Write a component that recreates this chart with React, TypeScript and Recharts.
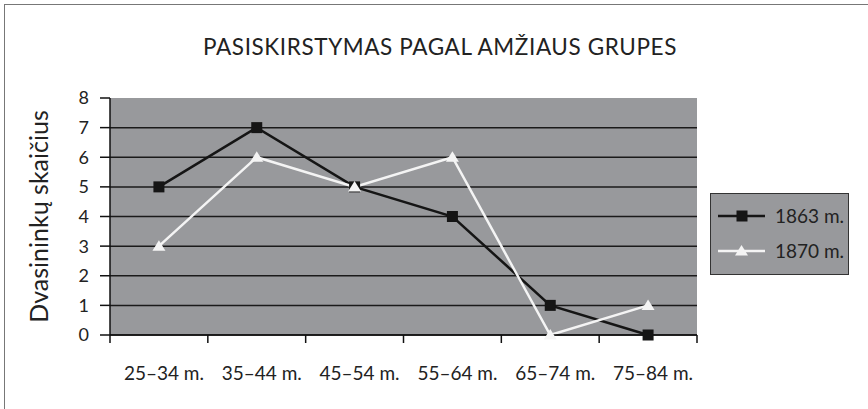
import React from 'react';
import { LineChart, Line, XAxis, YAxis, CartesianGrid, Legend, Label } from 'recharts';

// age groups and number of clergy per group
const ageGroups = ['25–34 m.', '35–44 m.', '45–54 m.', '55–64 m.', '65–74 m.', '75–84 m.'];
const clergy1863 = [5, 7, 5, 4, 1, 0];
const clergy1870 = [3, 6, 5, 6, 0, 1];
const yTicks = [0, 1, 2, 3, 4, 5, 6, 7, 8];
const gridValues = [0, 1, 2, 3, 4, 5, 6, 7];

const W = 868;
const H = 409;
const PLOT_LEFT = 110;
const PLOT_TOP = 98;
const PLOT_RIGHT = 697;
const PLOT_BOTTOM = 335;
const BAND = (PLOT_RIGHT - PLOT_LEFT) / ageGroups.length;

const FONT = 'Lato, "Open Sans", sans-serif';
const TEXT = '#222';
const PANEL = '#98999c';

const data = ageGroups.map((g, i) => ({ group: g, y1863: clergy1863[i], y1870: clergy1870[i] }));

const SquareDot = (props: any) => {
  const { cx, cy, index } = props;
  if (cx == null || cy == null) return <g key={`s-${index}`} />;
  return <rect key={`s-${index}`} x={cx - 5.5} y={cy - 5.5} width={11} height={11} fill="#151515" />;
};

const TriangleDot = (props: any) => {
  const { cx, cy, index } = props;
  if (cx == null || cy == null) return <g key={`t-${index}`} />;
  return <path key={`t-${index}`} d={`M${cx},${cy - 6} L${cx + 6.5},${cy + 4.5} L${cx - 6.5},${cy + 4.5} Z`} fill="#f4f4f4" />;
};

const XTick = (props: any) => {
  const { x, payload, index } = props;
  const half = BAND / 2;
  return (
    <g>
      {index === 0 && <line x1={x - half} y1={PLOT_BOTTOM} x2={x - half} y2={PLOT_BOTTOM + 8} stroke="#111" strokeWidth={1.5} />}
      <line x1={x + half} y1={PLOT_BOTTOM} x2={x + half} y2={PLOT_BOTTOM + 8} stroke="#111" strokeWidth={1.5} />
      <text x={x + 5} y={PLOT_BOTTOM + 45} textAnchor="middle" fill={TEXT} fontSize={19} fontFamily={FONT}>
        {payload.value}
      </text>
    </g>
  );
};

const LegendBox = (props: any) => {
  const { payload } = props;
  return (
    <div
      style={{
        width: 137,
        height: 76,
        background: PANEL,
        border: '1.5px solid #333',
        boxSizing: 'content-box',
        fontFamily: FONT,
        fontSize: 19,
        color: TEXT,
        paddingTop: 4,
      }}
    >
      {(payload || []).map((entry: any) => (
        <div key={entry.value} style={{ display: 'flex', alignItems: 'center', height: 35 }}>
          <svg width={58} height={20} style={{ marginLeft: 6 }}>
            <line x1={1} y1={10} x2={48} y2={10} stroke={entry.color} strokeWidth={2.5} />
            {entry.dataKey === 'y1863' ? (
              <rect x={19.5} y={4.5} width={11} height={11} fill="#151515" />
            ) : (
              <path d="M24.5,4 L31,14.5 L18,14.5 Z" fill="#f4f4f4" />
            )}
          </svg>
          <span>{entry.value}</span>
        </div>
      ))}
    </div>
  );
};

export default function App() {
  return (
    <div style={{ position: 'absolute', left: 0, top: 0, width: W, height: H, background: '#fff', overflow: 'hidden' }}>
      <div
        style={{
          position: 'absolute',
          left: 4,
          top: 4,
          width: W,
          height: H,
          borderLeft: '1.5px solid #777',
          borderTop: '1.5px solid #777',
        }}
      />
      <div
        style={{
          position: 'absolute',
          left: 0,
          top: 36,
          width: 880,
          textAlign: 'center',
          fontFamily: FONT,
          fontSize: 22.5,
          lineHeight: '22px',
          color: TEXT,
          letterSpacing: 0.6,
        }}
      >
        PASISKIRSTYMAS PAGAL AMŽIAUS GRUPES
      </div>
      <div style={{ position: 'absolute', left: 0, top: 0 }}>
        <LineChart
          width={W}
          height={H}
          data={data}
          margin={{ top: PLOT_TOP, right: W - PLOT_RIGHT, bottom: H - PLOT_BOTTOM - 40, left: PLOT_LEFT - 50 }}
        >
          <CartesianGrid
            vertical={false}
            horizontalValues={gridValues}
            stroke="#1a1a1a"
            strokeWidth={1.5}
            fill={PANEL}
            fillOpacity={1}
          />
          <XAxis
            dataKey="group"
            height={40}
            padding={{ left: BAND / 2, right: BAND / 2 }}
            tickLine={false}
            axisLine={{ stroke: '#111', strokeWidth: 1.5 }}
            tick={<XTick />}
            interval={0}
          />
          <YAxis
            width={50}
            domain={[0, 8]}
            ticks={yTicks}
            interval={0}
            tickSize={10}
            tickMargin={11}
            tickLine={{ stroke: '#111', strokeWidth: 1.5 }}
            axisLine={{ stroke: '#111', strokeWidth: 1.5 }}
            tick={{ fill: TEXT, fontSize: 18, fontFamily: FONT }}
          >
            <Label
              content={() => (
                <text
                  x={0}
                  y={0}
                  transform={`translate(48, ${(PLOT_TOP + PLOT_BOTTOM) / 2}) rotate(-90)`}
                  textAnchor="middle"
                  fill={TEXT}
                  fontSize={25}
                  fontFamily={FONT}
                >
                  Dvasininkų skaičius
                </text>
              )}
            />
          </YAxis>
          <Legend
            layout="vertical"
            align="center"
            verticalAlign="middle"
            content={<LegendBox />}
            wrapperStyle={{ position: 'absolute', left: 710, top: 193, width: 140, height: 80 }}
          />
          <Line
            type="linear"
            dataKey="y1863"
            name="1863 m."
            stroke="#151515"
            strokeWidth={2.5}
            dot={SquareDot}
            activeDot={false}
            isAnimationActive={false}
          />
          <Line
            type="linear"
            dataKey="y1870"
            name="1870 m."
            stroke="#f4f4f4"
            strokeWidth={2.5}
            dot={TriangleDot}
            activeDot={false}
            isAnimationActive={false}
          />
        </LineChart>
      </div>
    </div>
  );
}
